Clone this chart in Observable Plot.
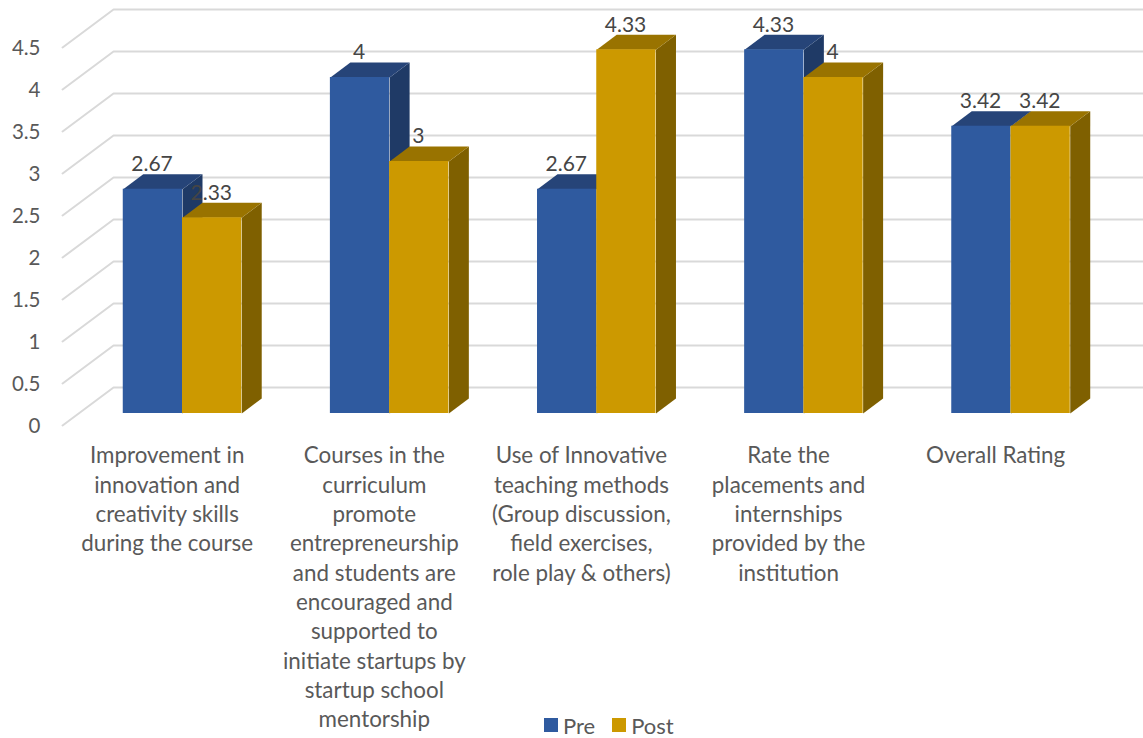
<!DOCTYPE html>
<html>
<head>
<meta charset="utf-8">
<script src="https://cdn.jsdelivr.net/npm/d3@7"></script>
<script src="https://cdn.jsdelivr.net/npm/@observablehq/plot@0.6"></script>
<style>
  html, body { margin: 0; padding: 0; background: #fff; }
  #chart { position: relative; width: 1143px; height: 738px; overflow: hidden; }
  #legend { position: absolute; left: 544px; top: 713px; display: flex; align-items: center;
            font: 22px Lato, sans-serif; color: #595959; height: 24px; }
  #legend i { display: inline-block; width: 14px; height: 14px; margin-right: 5px; }
  #legend span { margin-right: 17px; }
</style>
</head>
<body>
<div id="chart"></div>
<script>
const categories = [
  "Improvement in\ninnovation and\ncreativity skills\nduring the course",
  "Courses in the\ncurriculum\npromote\nentrepreneurship\nand students are\nencouraged and\nsupported to\ninitiate startups by\nstartup school\nmentorship",
  "Use of Innovative\nteaching methods\n(Group discussion,\nfield exercises,\nrole play & others)",
  "Rate the\nplacements and\ninternships\nprovided by the\ninstitution",
  "Overall Rating"
];
const pre = [2.67, 4, 2.67, 4.33, 3.42];
const post = [2.33, 3, 4.33, 4, 3.42];
const preLabels = ["2.67", "4", "2.67", "4.33", "3.42"];
const postLabels = ["2.33", "3", "4.33", "4", "3.42"];
const yTicks = [0, 0.5, 1, 1.5, 2, 2.5, 3, 3.5, 4, 4.5];
const seriesNames = ["Pre", "Post"];
const frontColors = ["#2f5a9f", "#cc9900"];
const topColors = ["#264478", "#997300"];
const sideColors = ["#1f3a66", "#7f6000"];

// oblique projection constants, in scale units
const barWidth = 0.286, depthX = 0.0965, depthY = 0.179;
const wallFrontX = -0.579, wallBackX = -0.333, wallEndX = 4.64;
const wallFrontY = -0.143, wallBackY = 0.31;

const bars = (vals, labels, s) => vals.map((v, i) => ({
  series: seriesNames[s], label: labels[i], v,
  x1: i + (s === 0 ? -barWidth : 0),
  x2: i + (s === 0 ? 0 : barWidth)
}));
const preBars = bars(pre, preLabels, 0);
const postBars = bars(post, postLabels, 1);

const sideFaces = (b) => b.flatMap((d, id) => [
  {id, x: d.x2, y: 0}, {id, x: d.x2 + depthX, y: depthY},
  {id, x: d.x2 + depthX, y: d.v + depthY}, {id, x: d.x2, y: d.v}
]);
const topFaces = (b) => b.flatMap((d, id) => [
  {id, x: d.x1, y: d.v}, {id, x: d.x2, y: d.v},
  {id, x: d.x2 + depthX, y: d.v + depthY}, {id, x: d.x1 + depthX, y: d.v + depthY}
]);
const grid = yTicks.flatMap((v) => [
  {v, x: wallFrontX, y: v + wallFrontY},
  {v, x: wallBackX, y: v + wallBackY},
  {v, x: wallEndX, y: v + wallBackY}
]);

const barMarks = (b, s) => [
  Plot.line(sideFaces(b), {x: "x", y: "y", z: "id", fill: sideColors[s], stroke: "none"}),
  Plot.line(topFaces(b), {x: "x", y: "y", z: "id", fill: topColors[s], stroke: "none"}),
  Plot.rect(b, {x1: "x1", x2: "x2", y1: 0, y2: "v", fill: "series"})
];
const labelMark = (b) => Plot.text(b, {
  x: (d) => (d.x1 + d.x2) / 2 - 0.004, y: "v", text: "label", dy: -25,
  fontSize: 21, fill: "#454545"
});

const chart = Plot.plot({
  width: 1143, height: 738,
  marginLeft: 40, marginTop: 0, marginRight: 0, marginBottom: 0,
  style: {fontFamily: "Lato, sans-serif", background: "#fff", overflow: "visible"},
  x: {type: "linear", domain: [0, 4], range: [182, 1010.5], axis: null},
  y: {type: "linear", domain: [0, 4.5], range: [413, 35], axis: null},
  color: {domain: seriesNames, range: frontColors},
  marks: [
    Plot.line(grid, {x: "x", y: "y", z: "v", stroke: "#d9d9d9", strokeWidth: 2, curve: "linear"}),
    Plot.axisY(yTicks, {anchor: "left", tickSize: 0, tickPadding: 0, dy: 13, fontSize: 20.5,
                        color: "#595959", label: null, tickFormat: (d) => String(d)}),
    ...barMarks(preBars, 0),
    ...barMarks(postBars, 1),
    labelMark(preBars),
    labelMark(postBars),
    Plot.text(categories, {
      x: (d, i) => i - 0.074, frameAnchor: "top", lineAnchor: "top", dy: 442,
      text: (d) => d, fontSize: 22.4, lineHeight: 1.31, fill: "#595959", textAnchor: "middle"
    })
  ]
});
const host = document.getElementById("chart");
host.appendChild(chart);

const legend = document.createElement("div");
legend.id = "legend";
seriesNames.forEach((name, i) => {
  const sw = document.createElement("i");
  sw.style.background = frontColors[i];
  const t = document.createElement("span");
  t.textContent = name;
  legend.append(sw, t);
});
host.appendChild(legend);
</script>
</body>
</html>
